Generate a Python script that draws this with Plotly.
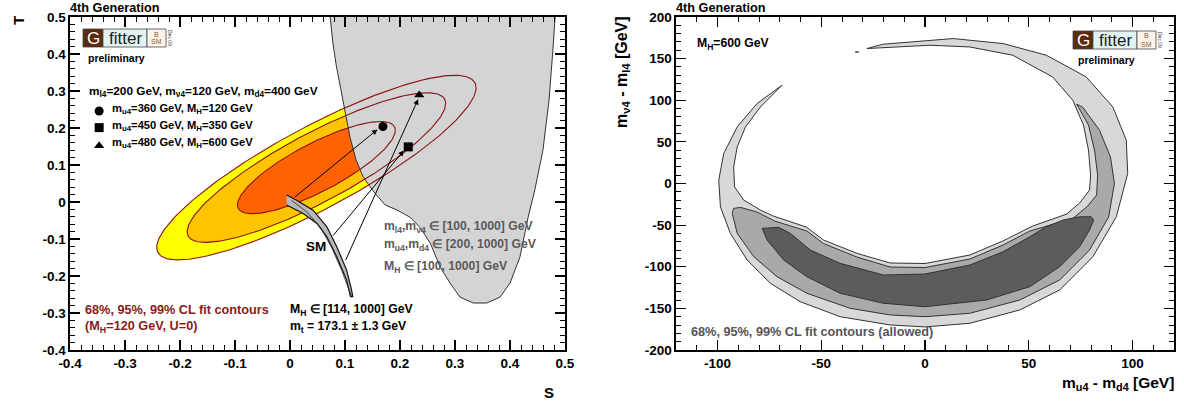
import numpy as np
import plotly.graph_objects as go

W, H = 1184, 403

# ---------------- Left panel: S-T plane ----------------
ell_center = [0.048, 0.093]
ell_angle_deg = 40.0
ell_semi_major = [0.370, 0.299, 0.181]      # 99%, 95%, 68% CL
ell_semi_minor = [0.098, 0.082, 0.058]
ell_fill = ['#ffff00', '#ffc400', '#ff6200']
ell_line = '#8b1212'

allowed_S = [0.073, 0.078, 0.084, 0.091, 0.100, 0.109, 0.120, 0.133, 0.151, 0.173, 0.195, 0.218, 0.236, 0.255,
             0.273, 0.291, 0.309, 0.333, 0.358, 0.382, 0.400, 0.418, 0.433, 0.445, 0.460, 0.471, 0.478, 0.482]
allowed_T = [0.5, 0.430, 0.370, 0.316, 0.241, 0.176, 0.114, 0.068, 0.030, -0.008, -0.022, -0.041, -0.068, -0.111,
             -0.176, -0.219, -0.257, -0.273, -0.273, -0.257, -0.219, -0.149, -0.041, 0.032, 0.141, 0.276, 0.411, 0.5]

sm_band_S = [-0.006, 0.012, 0.042, 0.067, 0.085, 0.103, 0.112, 0.114, 0.110, 0.103, 0.085, 0.067, 0.049, 0.024, -0.006]
sm_band_T = [0.019, 0.005, -0.022, -0.067, -0.121, -0.184, -0.238, -0.256, -0.256, -0.211, -0.148, -0.094, -0.058, -0.031, -0.008]
sm_mid_S = [0.003, 0.030, 0.056, 0.076, 0.094, 0.106, 0.112]
sm_mid_T = [0.004, -0.026, -0.070, -0.124, -0.185, -0.232, -0.256]

points_S = [0.169, 0.215, 0.235]
points_T = [0.204, 0.149, 0.289]
point_symbols = ['circle', 'square', 'triangle-up']
arrow_tip_S = [0.159, 0.207, 0.233]
arrow_tip_T = [0.196, 0.139, 0.278]
arrow_tail_S = [0.006, 0.076, 0.100]
arrow_tail_T = [0.010, -0.095, -0.161]

legend_marker_S = [-0.347, -0.347, -0.347]
legend_marker_T = [0.246, 0.201, 0.152]
legend_labels = ['m<sub>u4</sub>=360 GeV, M<sub>H</sub>=120 GeV',
                 'm<sub>u4</sub>=450 GeV, M<sub>H</sub>=350 GeV',
                 'm<sub>u4</sub>=480 GeV, M<sub>H</sub>=600 GeV']

left_x_ticks = [-0.4, -0.3, -0.2, -0.1, 0.0, 0.1, 0.2, 0.3, 0.4, 0.5]
left_x_text = ['-0.4', '-0.3', '-0.2', '-0.1', '0', '0.1', '0.2', '0.3', '0.4', '0.5']
left_y_ticks = [-0.4, -0.3, -0.2, -0.1, 0.0, 0.1, 0.2, 0.3, 0.4, 0.5]
left_y_text = ['-0.4', '-0.3', '-0.2', '-0.1', '0', '0.1', '0.2', '0.3', '0.4', '0.5']

# ---------------- Right panel: mass splittings ----------------
ring99_X = [-68.9, -80.9, -90.5, -97.0, -99.4, -98.6, -93.8, -85.7, -74.5, -60.1, -40.9, -16.8, 0.0, 21.6, 45.7,
            64.9, 80.9, 92.2, 97.7, 97.0, 90.5, 77.7, 58.5, 37.6, 13.6, 2.4, -20.2, -28.0,
            -20.2, 2.4, 21.6, 42.3, 61.5, 71.2, 76.4, 78.8, 79.8, 79.3, 74.5, 68.3, 61.5, 51.9, 37.5, 21.6, 0.0,
            -16.8, -32.8, -48.9, -57.2, -64.9, -73.1, -79.3, -87.4, -91.8, -92.2, -90.5, -86.5, -79.3, -68.9]
ring99_Y = [118.1, 96.1, 68.0, 36.1, 4.1, -28.0, -59.9, -91.9, -119.9, -142.0, -160.0, -169.9, -172.3, -167.9, -151.9,
            -127.9, -88.0, -40.0, 12.1, 52.1, 92.0, 128.0, 154.1, 168.1, 174.1, 172.1, 167.3, 162.1,
            163.3, 166.1, 164.0, 154.1, 128.0, 100.1, 70.1, 40.1, 10.1, -7.9, -23.5, -36.7, -42.7, -51.1, -69.1, -85.9, -96.1,
            -95.5, -83.9, -67.9, -52.3, -46.0, -39.1, -31.9, -19.9, -4.0, 20.0, 44.0, 68.0, 92.0, 118.1]
ring95_X = [-92.2, -92.9, -90.5, -82.5, -71.3, -56.9, -36.1, -16.8, 0.0, 21.6, 45.7, 64.9, 79.3, 88.5, 91.3, 89.4,
            84.1, 76.0, 73.1, 78.8, 81.7, 83.2, 82.7, 78.4, 71.3, 61.7, 50.5, 37.6, 21.6, 0.0, -16.8, -32.8, -48.9,
            -56.9, -64.9, -72.4, -80.9, -88.9, -92.2]
ring95_Y = [-29.9, -35.9, -59.9, -88.0, -112.0, -131.9, -149.9, -157.9, -160.0, -155.9, -139.9, -115.9, -79.9, -40.3,
            0.1, 31.7, 64.1, 91.7, 95.3, 70.1, 40.1, 10.1, -13.9, -27.1, -41.9, -48.7, -57.1, -73.9, -90.7, -100.9,
            -100.3, -88.3, -72.1, -57.1, -51.1, -45.1, -34.3, -28.7, -29.9]
ring68_X = [-78.5, -76.1, -68.1, -56.9, -40.9, -20.0, 0.0, 29.7, 50.5, 64.9, 74.5, 79.3, 81.3, 80.1, 74.5, 66.5,
            58.5, 50.5, 37.6, 21.6, 0.0, -20.0, -40.9, -55.3, -64.9, -70.5, -78.5]
ring68_Y = [-53.9, -67.9, -91.9, -112.0, -131.9, -143.9, -148.0, -139.9, -124.0, -100.0, -76.0, -55.9, -43.9, -40.0,
            -40.0, -43.9, -52.0, -64.0, -82.0, -97.9, -108.7, -109.9, -95.9, -79.9, -59.9, -52.7, -53.9]
ring_fill = ['#d8d8d8', '#a9a9a9', '#5c5c5c']
speck_X = [-33.6, -32.0]
speck_Y = [158.0, 158.0]

right_x_ticks = [-100, -50, 0, 50, 100]
right_x_text = ['-100', '-50', '0', '50', '100']
right_y_ticks = [-200, -150, -100, -50, 0, 50, 100, 150, 200]
right_y_text = ['-200', '-150', '-100', '-50', '0', '50', '100', '150', '200']

FONT = 'Liberation Sans'


def fx(p):
    return p / W


def fy(p):
    return 1 - p / H


fig = go.Figure()

# filled CL ellipses
th = np.radians(ell_angle_deg)
t = np.linspace(0, 2 * np.pi, 241)
ell_curves = []
for a, b in zip(ell_semi_major, ell_semi_minor):
    u, v = a * np.cos(t), b * np.sin(t)
    ell_curves.append((ell_center[0] + u * np.cos(th) - v * np.sin(th),
                       ell_center[1] + u * np.sin(th) + v * np.cos(th)))
for (es, et), col in zip(ell_curves, ell_fill):
    fig.add_trace(go.Scatter(x=es, y=et, mode='lines', fill='toself', fillcolor=col,
                             line=dict(width=0, color=col), hoverinfo='skip', showlegend=False,
                             xaxis='x', yaxis='y'))
# allowed 4th generation region
fig.add_trace(go.Scatter(x=allowed_S, y=allowed_T, mode='lines', fill='toself', fillcolor='#d4d4d4',
                         line=dict(width=1, color='#333333'), hoverinfo='skip', showlegend=False,
                         xaxis='x', yaxis='y'))
for es, et in ell_curves:
    fig.add_trace(go.Scatter(x=es, y=et, mode='lines', line=dict(width=1.1, color=ell_line),
                             hoverinfo='skip', showlegend=False, xaxis='x', yaxis='y'))
# SM band
fig.add_trace(go.Scatter(x=sm_band_S, y=sm_band_T, mode='lines', fill='toself', fillcolor='#b8b8b8',
                         line=dict(width=1.2, color='#111111'), hoverinfo='skip', showlegend=False,
                         xaxis='x', yaxis='y'))
fig.add_trace(go.Scatter(x=sm_mid_S, y=sm_mid_T, mode='lines', line=dict(width=0.8, color='#222222'),
                         hoverinfo='skip', showlegend=False, xaxis='x', yaxis='y'))
# points
for s, tt, sym in zip(points_S, points_T, point_symbols):
    fig.add_trace(go.Scatter(x=[s], y=[tt], mode='markers', marker=dict(symbol=sym, size=9, color='black'),
                             hoverinfo='skip', showlegend=False, xaxis='x', yaxis='y'))
for s, tt, sym in zip(legend_marker_S, legend_marker_T, point_symbols):
    fig.add_trace(go.Scatter(x=[s], y=[tt], mode='markers', marker=dict(symbol=sym, size=9, color='black'),
                             hoverinfo='skip', showlegend=False, xaxis='x', yaxis='y'))

# right panel contours
for rx, ry, col in zip([ring99_X, ring95_X, ring68_X], [ring99_Y, ring95_Y, ring68_Y], ring_fill):
    fig.add_trace(go.Scatter(x=rx, y=ry, mode='lines', fill='toself', fillcolor=col,
                             line=dict(width=1, color='#333333'), hoverinfo='skip', showlegend=False,
                             xaxis='x2', yaxis='y2'))
fig.add_trace(go.Scatter(x=speck_X, y=speck_Y, mode='lines', line=dict(width=1.5, color='#333333'),
                         hoverinfo='skip', showlegend=False, xaxis='x2', yaxis='y2'))

ann = []
shapes = []
for hs, ht, ts, tt in zip(arrow_tip_S, arrow_tip_T, arrow_tail_S, arrow_tail_T):
    ann.append(dict(x=hs, y=ht, ax=ts, ay=tt, xref='x', yref='y', axref='x', ayref='y', text='',
                    showarrow=True, arrowhead=2, arrowsize=1.1, arrowwidth=1, arrowcolor='black'))


def txt(px, py, s, size=12.2, color='black', anchor='left', angle=0, yanchor='middle'):
    ann.append(dict(x=fx(px), y=fy(py), xref='paper', yref='paper', text=s, showarrow=False,
                    xanchor=anchor, yanchor=yanchor, textangle=angle,
                    font=dict(family=FONT, size=size, color=color)))


# left panel texts
txt(68, 8, '<b>4th Generation</b>', 12.7)
txt(18, 21, '<b>T</b>', 15, angle=-90, anchor='center')
txt(549, 392, '<b>S</b>', 15, anchor='center')
txt(87, 91, '<b>m<sub>l4</sub>=200 GeV, m<sub>ν4</sub>=120 GeV, m<sub>d4</sub>=400 GeV</b>', 11.8)
for yy, lab in zip([109, 126, 143], legend_labels):
    txt(110, yy, '<b>' + lab + '</b>', 11.2)
txt(316, 246, '<b>SM</b>', 13.5, anchor='center')
txt(382, 227, '<b>m<sub>l4</sub>,m<sub>ν4</sub> ∈ [100, 1000] GeV</b>', 12.2, '#5a5a5a')
txt(382, 245, '<b>m<sub>u4</sub>,m<sub>d4</sub> ∈ [200, 1000] GeV</b>', 12.2, '#5a5a5a')
txt(382, 267, '<b>M<sub>H</sub> ∈ [100, 1000] GeV</b>', 12.2, '#5a5a5a')
txt(288, 310, '<b>M<sub>H</sub> ∈ [114, 1000] GeV</b>', 12.2)
txt(288, 327, '<b>m<sub>t</sub> = 173.1 ± 1.3 GeV</b>', 12.2)
txt(83, 310, '<b>68%, 95%, 99% CL fit contours</b>', 12.7, '#8b1a1a')
txt(83, 327, '<b>(M<sub>H</sub>=120 GeV, U=0)</b>', 12.7, '#8b1a1a')

# right panel texts
txt(674, 8, '<b>4th Generation</b>', 12.7)
txt(695, 44, '<b>M<sub>H</sub>=600 GeV</b>', 12.2)
txt(622, 14, '<b>m<sub>ν4</sub> - m<sub>l4</sub> [GeV]</b>', 16, angle=-90, anchor='center', yanchor='top')
txt(1176, 383, '<b>m<sub>u4</sub> - m<sub>d4</sub> [GeV]</b>', 15.5, anchor='right')
txt(689, 332, '<b>68%, 95%, 99% CL fit contours (allowed)</b>', 12.7, '#555555')


def logo(x0, y0):
    h = 18
    boxes = [(x0, x0 + 20, '#5b2c0e'), (x0 + 20, x0 + 64, '#e3f3f3'), (x0 + 64, x0 + 83, '#fcf4ec')]
    for a, b, c in boxes:
        shapes.append(dict(type='rect', xref='paper', yref='paper', x0=fx(a), x1=fx(b), y0=fy(y0 + h), y1=fy(y0),
                           fillcolor=c, line=dict(color='#444444', width=0.8)))
    txt(x0 + 10, y0 + 9.5, 'G', 17, '#ffffff', anchor='center')
    txt(x0 + 42, y0 + 9.5, 'fitter', 17, '#222222', anchor='center')
    txt(x0 + 73.5, y0 + 5, 'B', 7, '#8b5a2b', anchor='center')
    txt(x0 + 73.5, y0 + 13, 'SM', 7, '#8b5a2b', anchor='center')
    txt(x0 + 87, y0 + 9, 'Dec 09', 5, '#333333', anchor='center', angle=90)
    txt(x0 + 3, y0 + 29, '<b>preliminary</b>', 10.5)


logo(83, 29)
logo(1073, 31)

axis_common = dict(showgrid=False, zeroline=False, showline=True, linewidth=1.6, linecolor='black',
                   mirror='allticks', ticks='inside', ticklen=10, tickwidth=1.2, tickcolor='black',
                   tickmode='array', automargin=False, fixedrange=True,
                   tickfont=dict(family=FONT, size=13.5, color='black', weight='bold'))

fig.update_layout(
    template='none',
    width=W, height=H, margin=dict(l=0, r=0, t=0, b=0, pad=0, autoexpand=False),
    paper_bgcolor='white', plot_bgcolor='white', showlegend=False, hovermode=False,
    xaxis=dict(domain=[fx(70), fx(565)], range=[-0.4, 0.5], anchor='y',
               tickvals=left_x_ticks, ticktext=left_x_text,
               minor=dict(ticks='inside', ticklen=5, tickwidth=1, tickcolor='black',
                          tickvals=[round(v, 2) for v in np.arange(-0.4, 0.501, 0.02)]),
               **axis_common),
    yaxis=dict(domain=[fy(350), fy(17)], range=[-0.4, 0.5], anchor='x',
               tickvals=left_y_ticks, ticktext=left_y_text,
               minor=dict(ticks='inside', ticklen=5, tickwidth=1, tickcolor='black',
                          tickvals=[round(v, 2) for v in np.arange(-0.4, 0.501, 0.02)]),
               **axis_common),
    xaxis2=dict(domain=[fx(676), fx(1174)], range=[-120, 120], anchor='y2',
                tickvals=right_x_ticks, ticktext=right_x_text,
                minor=dict(ticks='inside', ticklen=5, tickwidth=1, tickcolor='black',
                           tickvals=list(range(-120, 121, 10))),
                **axis_common),
    yaxis2=dict(domain=[fy(350), fy(17)], range=[-200, 200], anchor='x2',
                tickvals=right_y_ticks, ticktext=right_y_text,
                minor=dict(ticks='inside', ticklen=5, tickwidth=1, tickcolor='black',
                           tickvals=list(range(-200, 201, 10))),
                **axis_common),
    annotations=ann, shapes=shapes,
)

fig.write_html('out.html', config={'displayModeBar': False, 'staticPlot': True},
               post_script="document.body.style.margin='0px';document.body.style.padding='0px';"
                           "document.documentElement.style.overflow='hidden';")
